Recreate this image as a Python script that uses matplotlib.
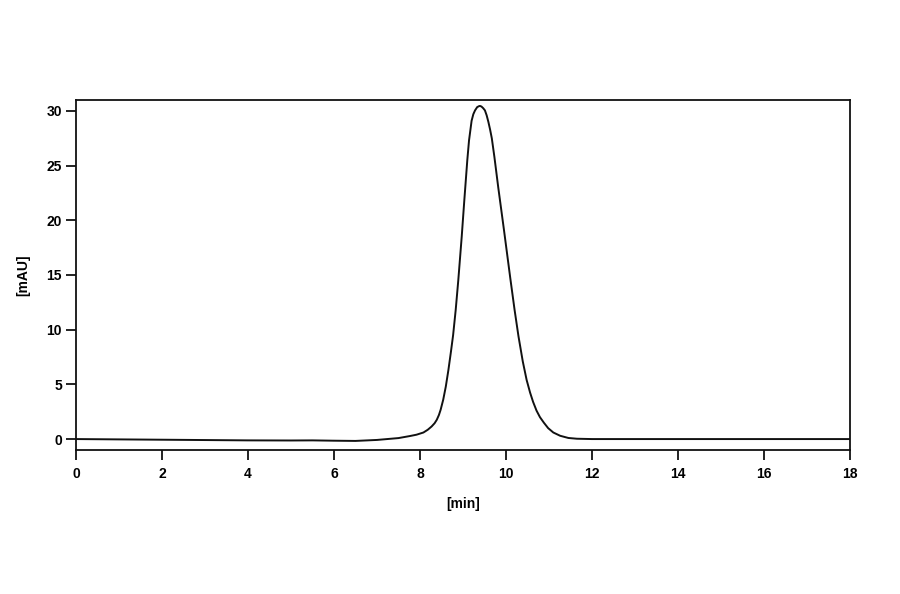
import matplotlib
matplotlib.use("Agg")
import matplotlib.pyplot as plt

# chromatogram trace (time in min, signal in mAU)
time_min = [0.0, 1.0, 2.0, 3.0, 4.0, 5.0, 5.5, 6.0, 6.5, 7.0, 7.5, 7.77,
            7.92, 8.08, 8.18, 8.27, 8.34, 8.39, 8.44, 8.48, 8.54, 8.6,
            8.66, 8.72, 8.77, 8.83, 8.89, 8.97, 9.03, 9.1, 9.14, 9.2,
            9.24, 9.28, 9.33, 9.38, 9.40, 9.43, 9.47, 9.51, 9.55, 9.59,
            9.63, 9.67, 9.73, 9.82, 9.95, 10.02, 10.1, 10.2, 10.29, 10.39,
            10.48, 10.56, 10.63, 10.71, 10.79, 10.88, 10.98, 11.1, 11.26,
            11.45, 11.65, 12.0, 14.0, 16.0, 18.0]
signal_mau = [0.0, -0.03, -0.06, -0.09, -0.12, -0.13, -0.12, -0.15, -0.17, -0.08, 0.09, 0.28,
              0.4, 0.6, 0.85, 1.15, 1.45, 1.76, 2.2, 2.68, 3.6, 4.8,
              6.3, 8.0, 9.5, 11.8, 14.5, 18.5, 21.8, 25.5, 27.3, 29.1,
              29.7, 30.05, 30.35, 30.45, 30.45, 30.4, 30.25, 30.05, 29.6, 29.0,
              28.3, 27.5, 25.8, 23.0, 19.2, 17.1, 14.7, 11.8, 9.4, 7.1,
              5.4, 4.25, 3.4, 2.6, 2.0, 1.5, 1.0, 0.6, 0.3,
              0.1, 0.03, 0.0, 0.0, 0.0, 0.0]

x_ticks = [0, 2, 4, 6, 8, 10, 12, 14, 16, 18]
y_ticks = [0, 5, 10, 15, 20, 25, 30]

plt.rcParams['font.family'] = ['Liberation Sans', 'DejaVu Sans']

fig = plt.figure(figsize=(9, 5.94), dpi=100)
ax = fig.add_axes([76 / 900, 1 - 450 / 594, 774 / 900, 350 / 594])

ax.plot(time_min, signal_mau, color='#111111', lw=1.4, solid_joinstyle='round')

ax.set_xlim(0, 18)
ax.set_ylim(-1, 31)
ax.set_xticks(x_ticks)
ax.set_yticks(y_ticks)

for side in ax.spines.values():
    side.set_linewidth(1.3)
    side.set_color('#111111')

ax.tick_params(axis='both', which='major', direction='out', length=7, width=1.3,
               labelsize=10, color='#111111')
ax.tick_params(axis='x', pad=5)
ax.tick_params(axis='y', pad=3)
for lab in ax.get_xticklabels() + ax.get_yticklabels():
    lab.set_fontweight('bold')

ax.set_xlabel("[min]", fontsize=10, fontweight='bold', labelpad=12)
ax.set_ylabel("[mAU]", fontsize=10, fontweight='bold', labelpad=12)

fig.savefig("out.png", dpi=100)
